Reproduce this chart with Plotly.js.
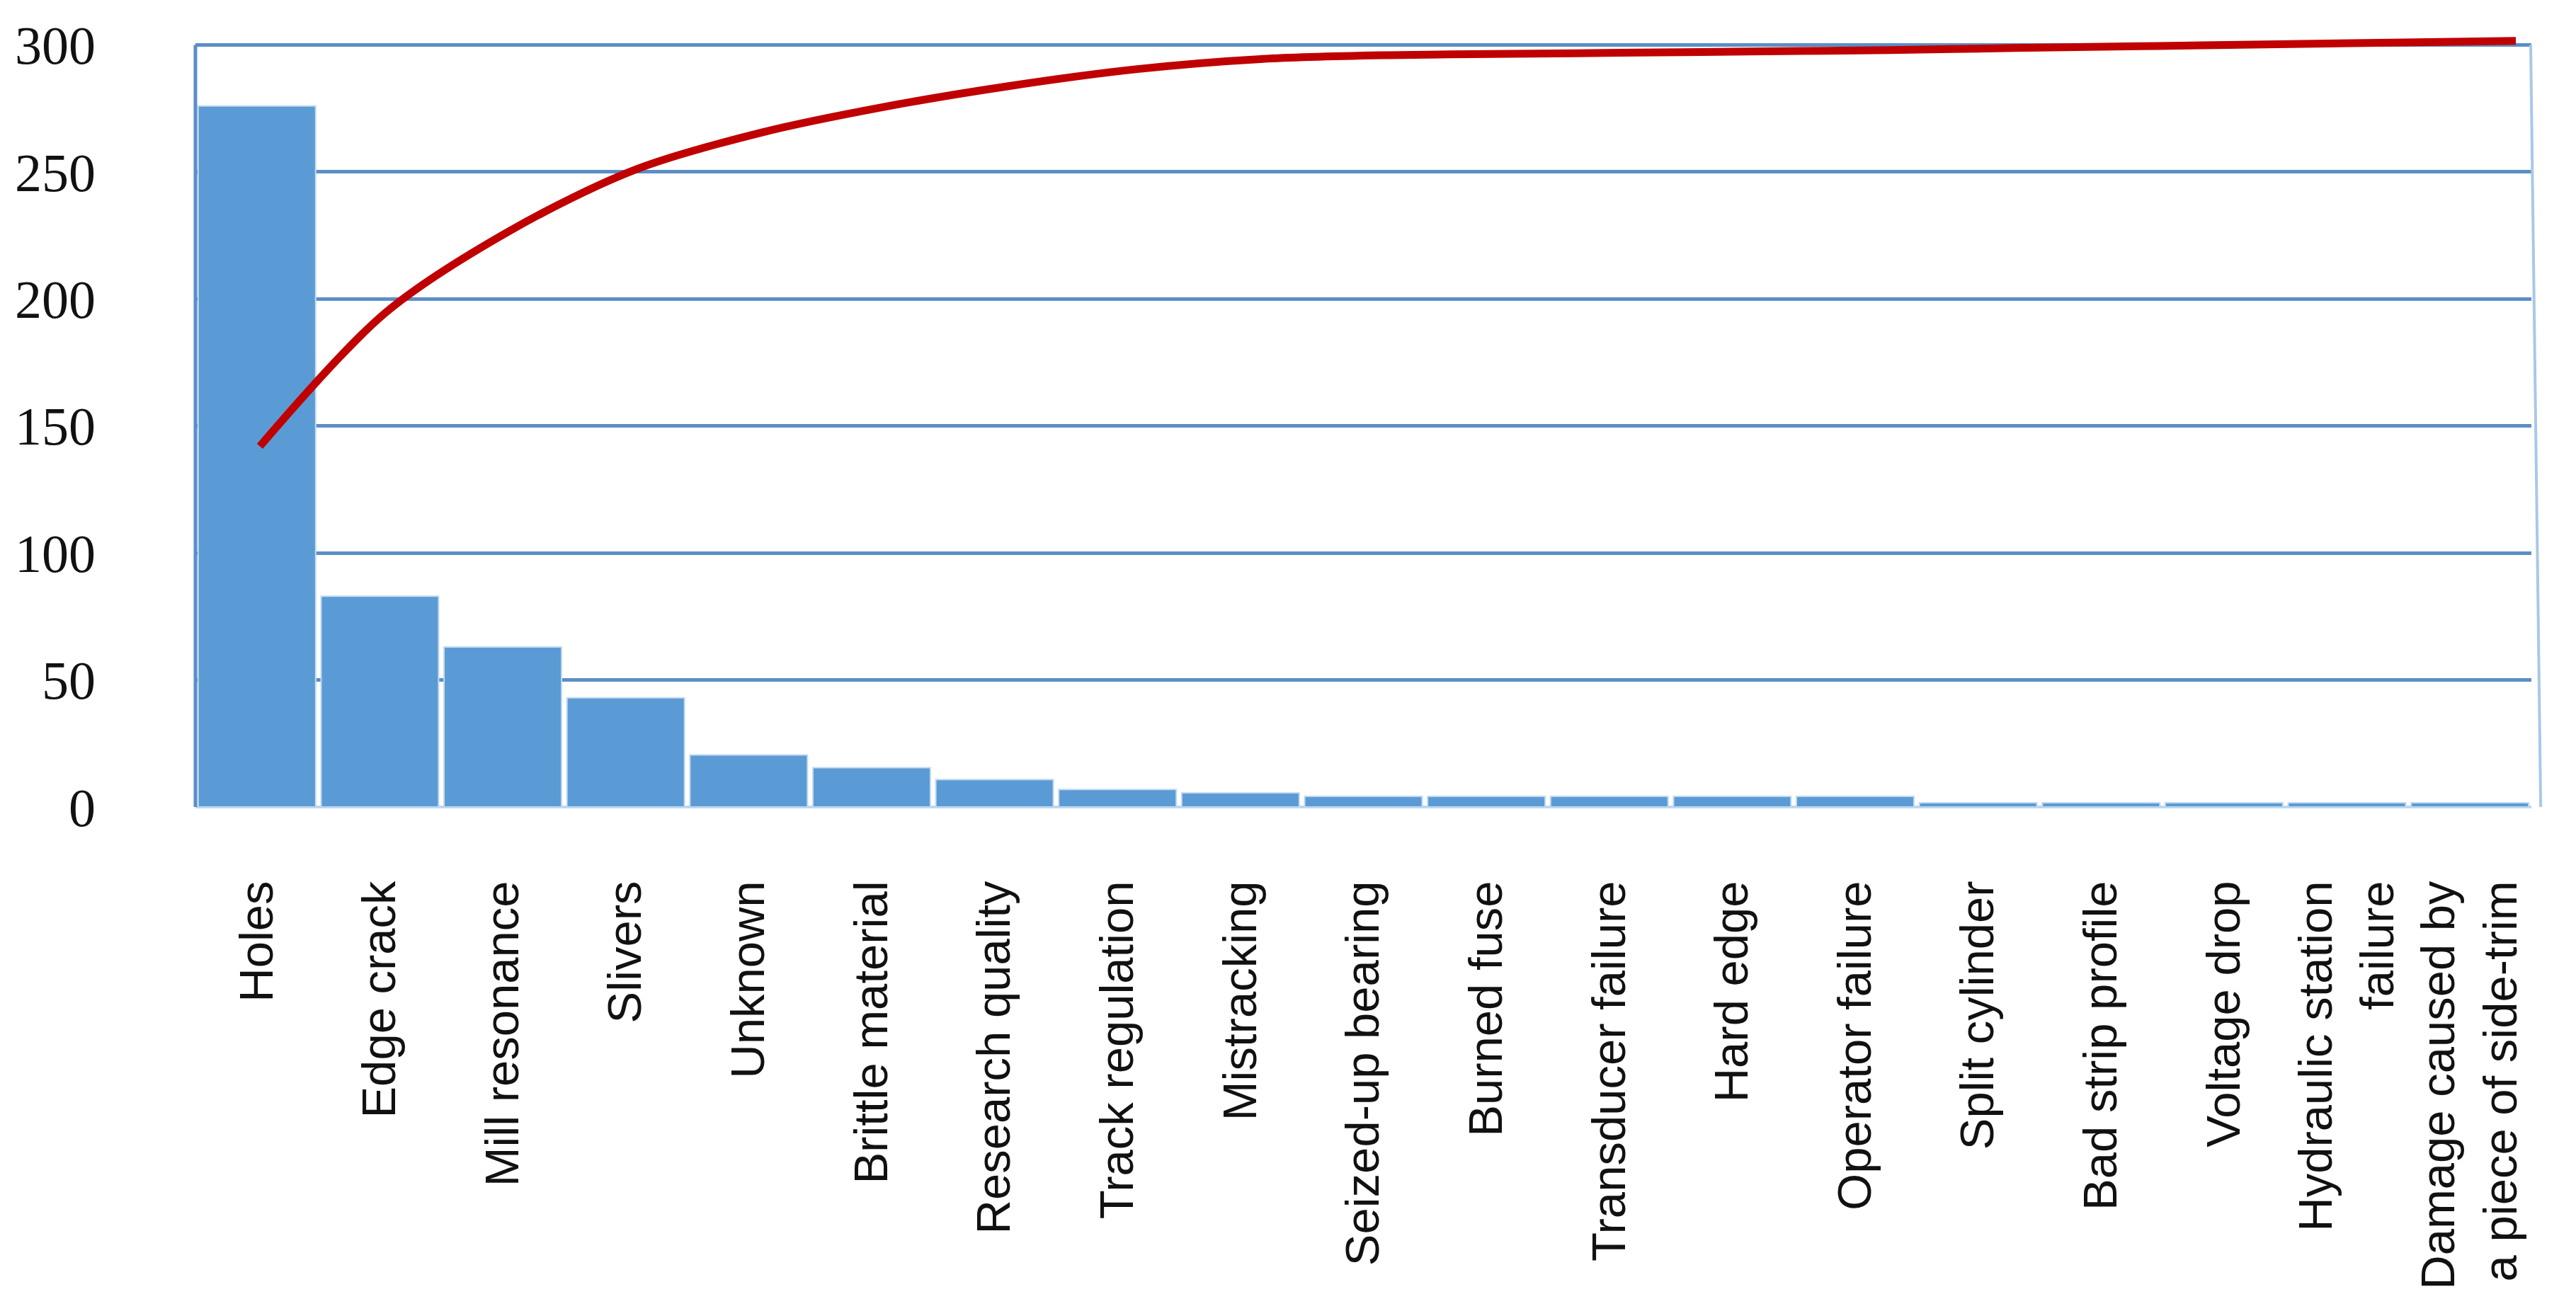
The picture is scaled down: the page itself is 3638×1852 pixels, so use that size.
<!DOCTYPE html>
<html>
<head>
<meta charset="utf-8">
<script src="https://cdn.plot.ly/plotly-3.0.1.min.js"></script>
<style>
  html, body { margin: 0; padding: 0; background: #ffffff; }
  #chart { width: 3638px; height: 1852px; }
</style>
</head>
<body>
<div id="chart"></div>
<script>
// Categories (x axis tick labels)
const categories = [
  "Holes", "Edge crack", "Mill resonance", "Slivers", "Unknown",
  "Brittle material", "Research quality", "Track regulation", "Mistracking",
  "Seized-up bearing", "Burned fuse", "Transducer failure", "Hard edge",
  "Operator failure", "Split cylinder", "Bad strip profile", "Voltage drop",
  "Hydraulic station<br>failure", "Damage caused by<br>a piece of side-trim"
];

// Bar heights (frequency of each failure cause)
const counts = [276, 83, 63, 43, 20.5, 15.5, 10.8, 6.9, 5.6, 4.2, 4.2, 4.2, 4.2, 4.2, 1.7, 1.7, 1.7, 1.7, 1.7];

// Red cumulative curve, read at each category position
const cumulative = [142, 194.5, 227, 251, 265.5, 275.8, 284, 290.5, 294.5, 296, 296.5, 297, 297.5, 298, 298.8, 299.5, 300.2, 300.9, 301.6];

// Y axis ticks
const yTickVals = [0, 50, 100, 150, 200, 250, 300];
const yTickText = ["0", "50", "100", "150", "200", "250", "300"];

const lineIndex = categories.map((_, i) => i);

const gridBlue = "#5b8ec7";

const traces = [
  {
    type: "bar",
    x: categories,
    y: counts,
    marker: { color: "#5b9bd5", line: { color: "#c3daf0", width: 2 } },
    hoverinfo: "x+y",
    showlegend: false
  },
  {
    type: "scatter",
    mode: "lines",
    x: lineIndex,
    y: cumulative,
    xaxis: "x2",
    yaxis: "y",
    line: { color: "#c00000", width: 11, shape: "spline", smoothing: 0.9 },
    showlegend: false,
    hoverinfo: "y"
  }
];

const layout = {
  width: 3638,
  height: 1852,
  margin: { l: 276, r: 63, t: 42, b: 712 },
  paper_bgcolor: "#ffffff",
  plot_bgcolor: "#ffffff",
  showlegend: false,
  bargap: 0.044,
  xaxis: {
    type: "category",
    categoryorder: "array",
    categoryarray: categories,
    range: [-0.5, 18.5],
    showgrid: false,
    zeroline: false,
    showline: false,
    ticks: "",
    tickangle: -90,
    ticklabelstandoff: 90,
    tickfont: { family: "Liberation Sans, Arial, sans-serif", size: 67, color: "#111111" }
  },
  xaxis2: {
    overlaying: "x",
    range: [-0.514, 18.124],
    visible: false,
    showgrid: false,
    zeroline: false
  },
  yaxis: {
    range: [0, 306],
    tickmode: "array",
    tickvals: yTickVals,
    ticktext: yTickText,
    showgrid: true,
    gridcolor: gridBlue,
    gridwidth: 5,
    zeroline: true,
    zerolinecolor: "#bdd7ee",
    zerolinewidth: 4,
    showline: false,
    ticks: "",
    ticklabelstandoff: 140,
    tickfont: { family: "Liberation Serif, 'Times New Roman', serif", size: 76, color: "#111111" }
  },
  shapes: [
    {
      type: "line", xref: "paper", yref: "y",
      x0: 0, x1: 0, y0: 0, y1: 300,
      line: { color: gridBlue, width: 5 },
      layer: "above"
    },
    {
      type: "line", xref: "paper", yref: "y",
      x0: 0.9997, x1: 1.004, y0: 300, y1: -1,
      line: { color: "#a9c8e8", width: 4 },
      layer: "above"
    }
  ]
};

Plotly.newPlot("chart", traces, layout, { staticPlot: true, displayModeBar: false });
</script>
</body>
</html>
